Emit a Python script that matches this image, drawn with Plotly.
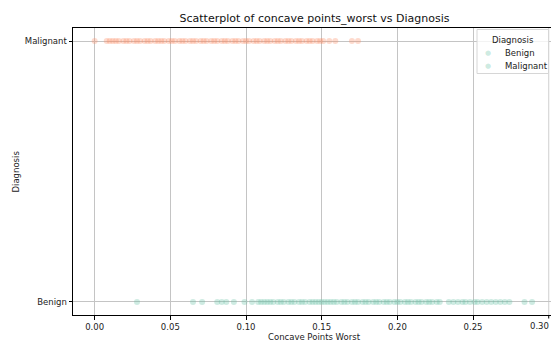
import plotly.graph_objects as go

categories = ["Benign", "Malignant"]
legend_title = "Diagnosis"

malignant_x = [0.000, 0.008, 0.010, 0.012, 0.014, 0.016, 0.019, 0.021, 0.023, 0.026,
               0.028, 0.030, 0.033, 0.035, 0.037, 0.040, 0.042, 0.044, 0.046, 0.049,
               0.051, 0.053, 0.056, 0.058, 0.060, 0.063, 0.065, 0.067, 0.070, 0.072,
               0.074, 0.077, 0.079, 0.081, 0.084, 0.086, 0.088, 0.091, 0.093, 0.095,
               0.098, 0.100, 0.102, 0.105, 0.107, 0.109, 0.112, 0.114, 0.116, 0.119,
               0.121, 0.123, 0.126, 0.128, 0.130, 0.133, 0.135, 0.137, 0.140, 0.142,
               0.144, 0.147, 0.149, 0.151, 0.155, 0.159, 0.170, 0.174]

benign_x = [0.028, 0.065, 0.071, 0.081, 0.084, 0.087, 0.092, 0.099, 0.104, 0.108,
            0.110, 0.112, 0.114, 0.116, 0.118, 0.121, 0.123, 0.125, 0.128, 0.130,
            0.132, 0.135, 0.137, 0.139, 0.142, 0.144, 0.146, 0.148, 0.150, 0.152,
            0.154, 0.156, 0.158, 0.160, 0.163, 0.165, 0.167, 0.170, 0.172, 0.174,
            0.177, 0.179, 0.181, 0.184, 0.186, 0.188, 0.191, 0.193, 0.195, 0.198,
            0.200, 0.202, 0.205, 0.207, 0.209, 0.212, 0.214, 0.216, 0.219, 0.221,
            0.223, 0.226, 0.228, 0.234, 0.237, 0.240, 0.243, 0.245, 0.248, 0.251,
            0.253, 0.256, 0.259, 0.262, 0.265, 0.268, 0.271, 0.274, 0.284, 0.289]

x_ticks = [0.00, 0.05, 0.10, 0.15, 0.20, 0.25, 0.30]
x_tick_labels = ["0.00", "0.05", "0.10", "0.15", "0.20", "0.25", "0.30"]

green = "rgba(102,194,165,0.32)"
orange = "rgba(252,141,98,0.32)"

# plot area in pixels
L, R, T, B = 73, 551, 28, 315
def px(x):
    return (x - L) / (R - L)
def py(y):
    return (B - y) / (B - T)

fig = go.Figure()
fig.add_trace(go.Scatter(x=benign_x, y=[0] * len(benign_x), mode="markers",
                         marker=dict(size=6, color=green, line=dict(width=0)),
                         showlegend=False, hoverinfo="x"))
fig.add_trace(go.Scatter(x=malignant_x, y=[1] * len(malignant_x), mode="markers",
                         marker=dict(size=6, color=orange, line=dict(width=0)),
                         showlegend=False, hoverinfo="x"))

font_family = "DejaVu Sans, sans-serif"
annotations = [
    dict(text="Concave Points Worst", xref="paper", yref="paper",
         x=px(314.5), y=py(337), xanchor="center", yanchor="middle",
         showarrow=False, font=dict(size=8.5)),
    dict(text="Diagnosis", xref="paper", yref="paper",
         x=px(15), y=0.5, xanchor="center", yanchor="middle",
         textangle=-90, showarrow=False, font=dict(size=8.5)),
    # last tick label, kept inside the figure edge
    dict(text=x_tick_labels[-1], xref="paper", yref="paper", x=1.0, y=py(326),
         xanchor="right", yanchor="middle", showarrow=False, font=dict(size=8.5)),
    # legend
    dict(text=legend_title, xref="paper", yref="paper", x=px(513), y=py(40),
         xanchor="center", yanchor="middle", showarrow=False, font=dict(size=8.5)),
]
legend_rows = [53.3, 65.7]
for name, yy in zip(categories, legend_rows):
    annotations.append(dict(text="●", xref="paper", yref="paper", x=px(487.5), y=py(yy),
                            xanchor="center", yanchor="middle", showarrow=False,
                            font=dict(size=7, color=green)))
    annotations.append(dict(text=name, xref="paper", yref="paper", x=px(503), y=py(yy),
                            xanchor="left", yanchor="middle", showarrow=False,
                            font=dict(size=8.5)))

fig.update_layout(
    width=551, height=341,
    margin=dict(l=L, r=551 - R, t=T, b=341 - B, autoexpand=False),
    paper_bgcolor="white", plot_bgcolor="white",
    font=dict(family=font_family, size=8.5, color="#222"),
    showlegend=False,
    title=dict(text="Scatterplot of concave points_worst vs Diagnosis",
               x=314.5 / 551, xanchor="center", y=1 - 18 / 341, yanchor="middle",
               font=dict(size=11, color="#111")),
    xaxis=dict(range=[-0.0143, 0.3015], tickvals=x_ticks[:-1], ticktext=x_tick_labels[:-1],
               showgrid=True, gridcolor="#c4c4c4", gridwidth=0.8,
               showline=True, linecolor="black", linewidth=1, mirror=True,
               ticks="outside", ticklen=3.5, tickcolor="black", zeroline=False,
               automargin=False),
    yaxis=dict(range=[-0.05, 1.05], tickvals=[0, 1], ticktext=categories,
               showgrid=True, gridcolor="#c4c4c4", gridwidth=0.8,
               showline=True, linecolor="black", linewidth=1,
               ticks="outside", ticklen=3.5, tickcolor="black", zeroline=False,
               automargin=False),
    shapes=[
        dict(type="line", xref="x", yref="paper", x0=x_ticks[-1], x1=x_ticks[-1],
             y0=0, y1=1, line=dict(color="#c4c4c4", width=0.8), layer="below"),
        dict(type="line", xref="x", yref="paper", x0=x_ticks[-1], x1=x_ticks[-1],
             y0=0, y1=-3.5 / (B - T), line=dict(color="black", width=1)),
        dict(type="rect", xref="paper", yref="paper",
             x0=px(477), x1=px(548.5), y0=py(29.5), y1=py(73.5),
             line=dict(color="#d6d6d6", width=1),
             fillcolor="rgba(255,255,255,0.8)", layer="above"),
    ],
    annotations=annotations,
)

fig.write_html("out.html", config={"displayModeBar": False},
               post_script="document.body.style.margin='0';document.body.style.overflow='hidden';")
